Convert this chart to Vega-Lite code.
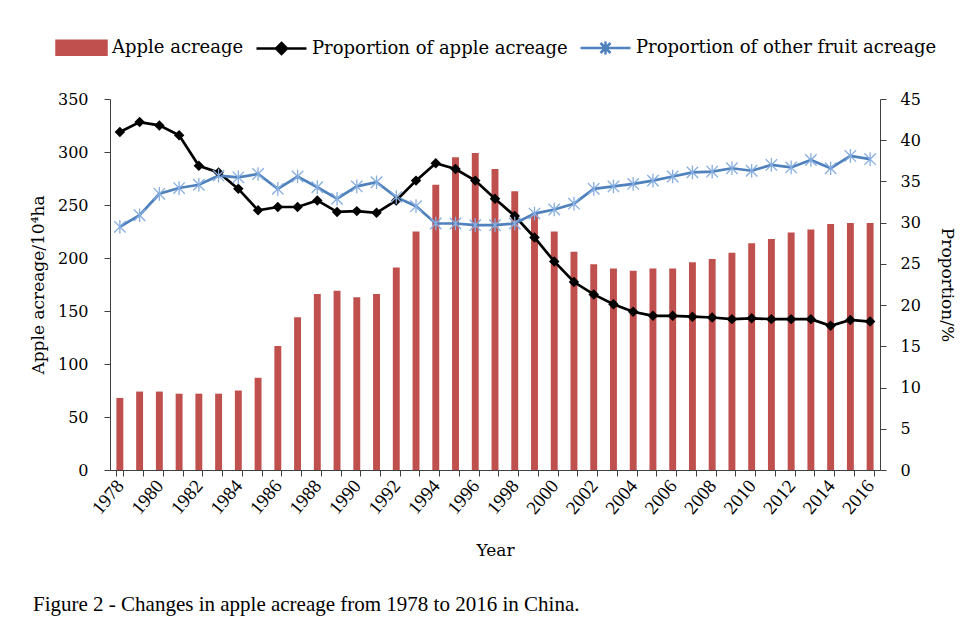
{
  "$schema": "https://vega.github.io/schema/vega-lite/v6.json",
  "width": 770,
  "height": 371,
  "autosize": {"type": "none"},
  "padding": {"left": 110, "top": 99, "right": 80, "bottom": 169},
  "background": "white",
  "config": {
    "view": {"stroke": null},
    "font": "DejaVu Serif",
    "axis": {
      "grid": false,
      "domainColor": "#404040",
      "tickColor": "#404040",
      "tickSize": 6,
      "labelFont": "DejaVu Serif",
      "labelFontSize": 16,
      "labelColor": "#000000",
      "titleFont": "DejaVu Serif",
      "titleFontSize": 17,
      "titleFontWeight": "normal",
      "titleColor": "#000000"
    }
  },
  "title": {
    "text": "Figure 2 - Changes in apple acreage from 1978 to 2016 in China.",
    "orient": "bottom",
    "anchor": "start",
    "frame": "group",
    "dx": -77,
    "offset": 35,
    "font": "Liberation Serif",
    "fontSize": 21,
    "fontWeight": "normal",
    "color": "#000000"
  },
  "data": {
    "values": [
      {"Year": 1978, "Apple acreage": 68, "Proportion of apple acreage": 41.0, "Proportion of other fruit acreage": 29.5},
      {"Year": 1979, "Apple acreage": 74, "Proportion of apple acreage": 42.2, "Proportion of other fruit acreage": 30.9},
      {"Year": 1980, "Apple acreage": 74, "Proportion of apple acreage": 41.8, "Proportion of other fruit acreage": 33.5},
      {"Year": 1981, "Apple acreage": 72, "Proportion of apple acreage": 40.6, "Proportion of other fruit acreage": 34.2},
      {"Year": 1982, "Apple acreage": 72, "Proportion of apple acreage": 36.9, "Proportion of other fruit acreage": 34.6},
      {"Year": 1983, "Apple acreage": 72, "Proportion of apple acreage": 36.1, "Proportion of other fruit acreage": 35.7},
      {"Year": 1984, "Apple acreage": 75, "Proportion of apple acreage": 34.1, "Proportion of other fruit acreage": 35.5},
      {"Year": 1985, "Apple acreage": 87, "Proportion of apple acreage": 31.5, "Proportion of other fruit acreage": 35.9},
      {"Year": 1986, "Apple acreage": 117, "Proportion of apple acreage": 31.9, "Proportion of other fruit acreage": 34.1},
      {"Year": 1987, "Apple acreage": 144, "Proportion of apple acreage": 31.9, "Proportion of other fruit acreage": 35.6},
      {"Year": 1988, "Apple acreage": 166, "Proportion of apple acreage": 32.7, "Proportion of other fruit acreage": 34.3},
      {"Year": 1989, "Apple acreage": 169, "Proportion of apple acreage": 31.3, "Proportion of other fruit acreage": 32.9},
      {"Year": 1990, "Apple acreage": 163, "Proportion of apple acreage": 31.4, "Proportion of other fruit acreage": 34.4},
      {"Year": 1991, "Apple acreage": 166, "Proportion of apple acreage": 31.2, "Proportion of other fruit acreage": 34.9},
      {"Year": 1992, "Apple acreage": 191, "Proportion of apple acreage": 32.7, "Proportion of other fruit acreage": 33.1},
      {"Year": 1993, "Apple acreage": 225, "Proportion of apple acreage": 35.1, "Proportion of other fruit acreage": 32.0},
      {"Year": 1994, "Apple acreage": 269, "Proportion of apple acreage": 37.2, "Proportion of other fruit acreage": 29.9},
      {"Year": 1995, "Apple acreage": 295, "Proportion of apple acreage": 36.5, "Proportion of other fruit acreage": 29.9},
      {"Year": 1996, "Apple acreage": 299, "Proportion of apple acreage": 35.1, "Proportion of other fruit acreage": 29.7},
      {"Year": 1997, "Apple acreage": 284, "Proportion of apple acreage": 32.9, "Proportion of other fruit acreage": 29.7},
      {"Year": 1998, "Apple acreage": 263, "Proportion of apple acreage": 30.8, "Proportion of other fruit acreage": 29.9},
      {"Year": 1999, "Apple acreage": 242, "Proportion of apple acreage": 28.2, "Proportion of other fruit acreage": 31.1},
      {"Year": 2000, "Apple acreage": 225, "Proportion of apple acreage": 25.3, "Proportion of other fruit acreage": 31.6},
      {"Year": 2001, "Apple acreage": 206, "Proportion of apple acreage": 22.8, "Proportion of other fruit acreage": 32.3},
      {"Year": 2002, "Apple acreage": 194, "Proportion of apple acreage": 21.3, "Proportion of other fruit acreage": 34.1},
      {"Year": 2003, "Apple acreage": 190, "Proportion of apple acreage": 20.1, "Proportion of other fruit acreage": 34.4},
      {"Year": 2004, "Apple acreage": 188, "Proportion of apple acreage": 19.2, "Proportion of other fruit acreage": 34.7},
      {"Year": 2005, "Apple acreage": 190, "Proportion of apple acreage": 18.7, "Proportion of other fruit acreage": 35.1},
      {"Year": 2006, "Apple acreage": 190, "Proportion of apple acreage": 18.7, "Proportion of other fruit acreage": 35.6},
      {"Year": 2007, "Apple acreage": 196, "Proportion of apple acreage": 18.6, "Proportion of other fruit acreage": 36.1},
      {"Year": 2008, "Apple acreage": 199, "Proportion of apple acreage": 18.5, "Proportion of other fruit acreage": 36.2},
      {"Year": 2009, "Apple acreage": 205, "Proportion of apple acreage": 18.3, "Proportion of other fruit acreage": 36.6},
      {"Year": 2010, "Apple acreage": 214, "Proportion of apple acreage": 18.4, "Proportion of other fruit acreage": 36.3},
      {"Year": 2011, "Apple acreage": 218, "Proportion of apple acreage": 18.3, "Proportion of other fruit acreage": 37.0},
      {"Year": 2012, "Apple acreage": 224, "Proportion of apple acreage": 18.3, "Proportion of other fruit acreage": 36.7},
      {"Year": 2013, "Apple acreage": 227, "Proportion of apple acreage": 18.3, "Proportion of other fruit acreage": 37.6},
      {"Year": 2014, "Apple acreage": 232, "Proportion of apple acreage": 17.5, "Proportion of other fruit acreage": 36.6},
      {"Year": 2015, "Apple acreage": 233, "Proportion of apple acreage": 18.2, "Proportion of other fruit acreage": 38.1},
      {"Year": 2016, "Apple acreage": 233, "Proportion of apple acreage": 18.0, "Proportion of other fruit acreage": 37.7}
    ]
  },
  "transform": [
    {"fold": ["Apple acreage", "Proportion of apple acreage", "Proportion of other fruit acreage"], "as": ["series", "value"]}
  ],
  "encoding": {
    "x": {
      "field": "Year",
      "type": "ordinal",
      "scale": {"paddingInner": 0.65, "paddingOuter": 0.325},
      "axis": {
        "title": "Year",
        "labelAngle": -50,
        "labelFont": "Liberation Serif",
        "labelFontSize": 19,
        "labelPadding": 6,
        "titlePadding": 25,
        "tickBand": "extent",
        "labelOverlap": false,
        "labelExpr": "datum.value % 2 == 0 ? datum.label : ''"
      }
    }
  },
  "layer": [
    {
      "transform": [{"filter": "datum.series == 'Apple acreage'"}],
      "mark": {"type": "bar"},
      "encoding": {
        "y": {
          "field": "value",
          "type": "quantitative",
          "scale": {"domain": [0, 350], "nice": false},
          "axis": {
            "title": "Apple acreage/10⁴ha",
            "values": [0, 50, 100, 150, 200, 250, 300, 350],
            "labelPadding": 16,
            "titlePadding": 10
          }
        },
        "color": {
          "field": "series",
          "type": "nominal",
          "scale": {
            "domain": ["Apple acreage", "Proportion of apple acreage", "Proportion of other fruit acreage"],
            "range": ["#C0504D", "#000000", "#4F81BD"]
          },
          "legend": {
            "title": null,
            "orient": "none",
            "legendX": -55,
            "legendY": -78,
            "direction": "horizontal",
            "columns": 3,
            "symbolSize": 2500,
            "labelFont": "DejaVu Serif",
            "labelFontSize": 18,
            "labelColor": "#000000",
            "labelLimit": 400,
            "labelOffset": 4,
            "columnPadding": 7,
            "encode": {
              "symbols": {
                "update": {
                  "shape": {"signal": "datum.value === 'Apple acreage' ? 'M-1,-0.28H1V0.28H-1Z' : (datum.value === 'Proportion of apple acreage' ? 'M-1,0H1M0,-0.22L0.22,0L0,0.22L-0.22,0Z' : 'M-1,0H1M-0.2,-0.2L0.2,0.2M-0.2,0.2L0.2,-0.2M0,-0.26V0.26')"},
                  "fill": {"signal": "datum.value === 'Proportion of other fruit acreage' ? 'transparent' : scale('color', datum.value)"},
                  "stroke": {"signal": "scale('color', datum.value)"},
                  "strokeWidth": {"value": 2.5},
                  "opacity": {"value": 1}
                }
              }
            }
          }
        }
      }
    },
    {
      "transform": [{"filter": "datum.series != 'Apple acreage'"}],
      "encoding": {
        "y": {
          "field": "value",
          "type": "quantitative",
          "scale": {"domain": [0, 45], "nice": false},
          "axis": {
            "orient": "right",
            "title": "Proportion/%",
            "values": [0, 5, 10, 15, 20, 25, 30, 35, 40, 45],
            "labelPadding": 14,
            "titlePadding": 17
          }
        }
      },
      "layer": [
        {
          "mark": {"type": "line", "strokeWidth": 2.7},
          "encoding": {"color": {"field": "series", "type": "nominal"}}
        },
        {
          "transform": [{"filter": "datum.series == 'Proportion of apple acreage'"}],
          "mark": {"type": "point", "shape": "diamond", "filled": true, "color": "#000000", "size": 110, "opacity": 1}
        },
        {
          "transform": [{"filter": "datum.series == 'Proportion of other fruit acreage'"}],
          "mark": {"type": "point", "shape": "M-1,-1L1,1M-1,1L1,-1M0,-1.2V1.2", "filled": false, "color": "#86AEE0", "size": 130, "strokeWidth": 1.3, "opacity": 1}
        }
      ]
    }
  ],
  "resolve": {"scale": {"y": "independent"}}
}
